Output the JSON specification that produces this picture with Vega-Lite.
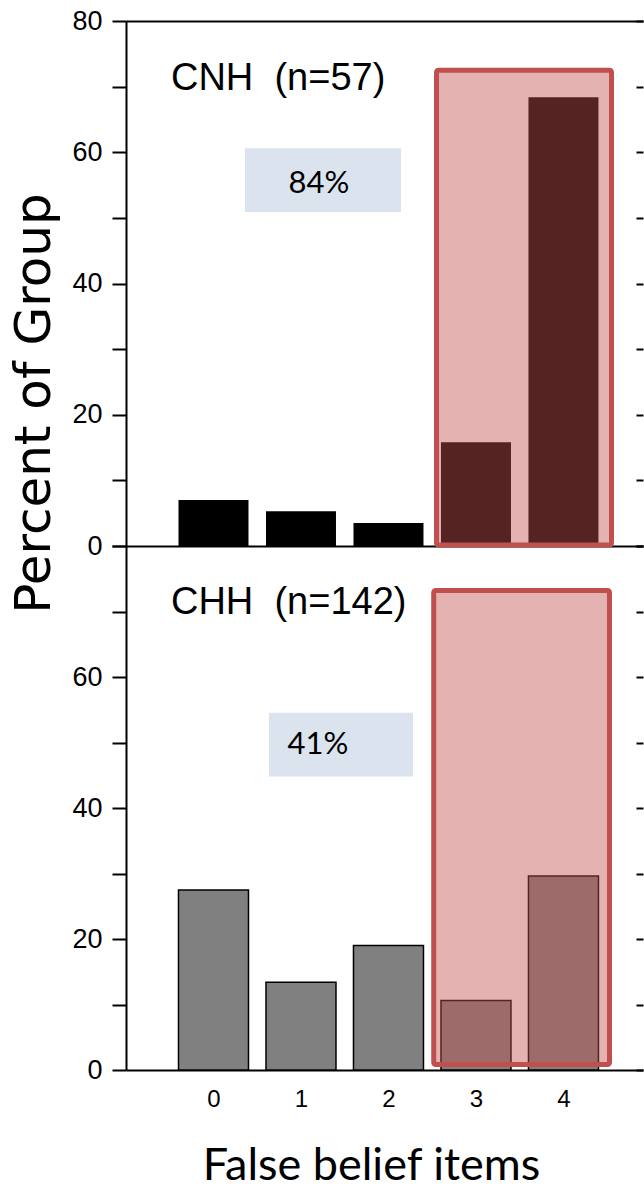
{
  "$schema": "https://vega.github.io/schema/vega-lite/v6.json",
  "autosize": {"type": "pad"},
  "padding": {"left": 9, "top": 7, "right": 0, "bottom": 0},
  "background": "white",
  "config": {
    "view": {"stroke": null},
    "axis": {"domainColor": "black", "tickColor": "black", "labelColor": "black", "titleColor": "black", "grid": false, "domainWidth": 2, "tickWidth": 2, "titleFontWeight": "normal"}
  },
  "datasets": {
    "bars": [
      {"panel": "CNH", "item": 0, "pct": 7.0},
      {"panel": "CNH", "item": 1, "pct": 5.3},
      {"panel": "CNH", "item": 2, "pct": 3.5},
      {"panel": "CNH", "item": 3, "pct": 15.8},
      {"panel": "CNH", "item": 4, "pct": 68.4},
      {"panel": "CHH", "item": 0, "pct": 27.5},
      {"panel": "CHH", "item": 1, "pct": 13.4},
      {"panel": "CHH", "item": 2, "pct": 19.0},
      {"panel": "CHH", "item": 3, "pct": 10.6},
      {"panel": "CHH", "item": 4, "pct": 29.6}
    ],
    "redbox": [
      {"panel": "CNH", "x1": 2.549, "x2": 4.549, "y1": 0.15, "y2": 72.5},
      {"panel": "CHH", "x1": 2.517, "x2": 4.526, "y1": 0.84, "y2": 73.2}
    ],
    "bluebox": [
      {"panel": "CNH", "x1": 0.36, "x2": 2.143, "y1": 50.9, "y2": 60.6},
      {"panel": "CHH", "x1": 0.634, "x2": 2.28, "y1": 44.8, "y2": 54.55}
    ],
    "labels": [
      {"panel": "CNH", "x": -0.486, "y": 69.5, "text": "CNH\u00a0\u00a0(n=57)"},
      {"panel": "CHH", "x": -0.486, "y": 69.6, "text": "CHH\u00a0\u00a0(n=142)"}
    ],
    "pcts": [
      {"panel": "CNH", "x": 1.206, "y": 53.8, "text": "84%"},
      {"panel": "CHH", "x": 1.194, "y": 48.2, "text": "41%"}
    ]
  },
  "spacing": 0,
  "bounds": "flush",
  "vconcat": [
    {
      "width": 517,
      "height": 525,
      "resolve": {"axis": {"x": "independent", "y": "independent"}},
      "layer": [
        {
          "data": {"name": "bluebox"},
          "transform": [{"filter": "datum.panel == 'CNH'"}],
          "mark": {"type": "rect", "fill": "#dae3ee"},
          "encoding": {
            "x": {"field": "x1", "type": "quantitative", "scale": {"domain": [-1, 4.909], "nice": false, "zero": false, "padding": 0}, "axis": null},
            "x2": {"field": "x2"},
            "y": {"field": "y1", "type": "quantitative", "scale": {"domain": [0, 80], "nice": false, "padding": 0}, "axis": null},
            "y2": {"field": "y2"}
          }
        },
        {
          "data": {"name": "bars"},
          "transform": [{"filter": "datum.panel == 'CNH'"}],
          "mark": {"type": "bar", "width": 70, "fill": "black"},
          "encoding": {
            "x": {"field": "item", "type": "quantitative", "scale": {"domain": [-1, 4.909], "nice": false, "zero": false, "padding": 0},
              "axis": {"orient": "bottom", "labels": false, "ticks": false, "domain": true, "title": null}},
            "y": {"field": "pct", "type": "quantitative", "scale": {"domain": [0, 80], "nice": false, "padding": 0},
              "axis": {"orient": "left", "values": [0, 10, 20, 30, 40, 50, 60, 70, 80], "labelExpr": "datum.value % 20 == 0 ? datum.label : ''",
                "tickSize": 14, "labelPadding": 10, "labelFont": "Liberation Sans", "labelFontSize": 27,
                "title": "Percent of Group", "titleFont": "DejaVu Sans", "titleFontSize": 50, "titleAngle": 270,
                "titleX": -77, "titleY": 382, "titleAlign": "center", "titleBaseline": "alphabetic"}}
          }
        },
        {
          "data": {"name": "redbox"},
          "transform": [{"filter": "datum.panel == 'CNH'"}],
          "mark": {"type": "rect", "fill": "#c0504d", "fillOpacity": 0.44, "stroke": "#c0504d", "strokeWidth": 5, "cornerRadius": 2},
          "encoding": {
            "x": {"field": "x1", "type": "quantitative", "scale": {"domain": [-1, 4.909], "nice": false, "zero": false, "padding": 0},
              "axis": {"orient": "top", "labels": false, "ticks": false, "domain": true, "title": null}},
            "x2": {"field": "x2"},
            "y": {"field": "y1", "type": "quantitative", "scale": {"domain": [0, 80], "nice": false, "padding": 0},
              "axis": {"orient": "right", "values": [0, 10, 20, 30, 40, 50, 60, 70, 80], "labels": false, "domain": false, "tickSize": -7, "title": null}},
            "y2": {"field": "y2"}
          }
        },
        {
          "data": {"name": "labels"},
          "transform": [{"filter": "datum.panel == 'CNH'"}],
          "mark": {"type": "text", "align": "left", "baseline": "alphabetic", "font": "Liberation Sans", "fontSize": 38, "color": "black"},
          "encoding": {
            "x": {"field": "x", "type": "quantitative", "scale": {"domain": [-1, 4.909], "nice": false, "zero": false, "padding": 0}, "axis": null},
            "y": {"field": "y", "type": "quantitative", "scale": {"domain": [0, 80], "nice": false, "padding": 0}, "axis": null},
            "text": {"field": "text"}
          }
        },
        {
          "data": {"name": "pcts"},
          "transform": [{"filter": "datum.panel == 'CNH'"}],
          "mark": {"type": "text", "align": "center", "baseline": "alphabetic", "font": "Lato", "fontSize": 31, "color": "black"},
          "encoding": {
            "x": {"field": "x", "type": "quantitative", "scale": {"domain": [-1, 4.909], "nice": false, "zero": false, "padding": 0}, "axis": null},
            "y": {"field": "y", "type": "quantitative", "scale": {"domain": [0, 80], "nice": false, "padding": 0}, "axis": null},
            "text": {"field": "text"}
          }
        }
      ]
    },
    {
      "width": 517,
      "height": 524,
      "resolve": {"axis": {"x": "independent", "y": "independent"}},
      "layer": [
        {
          "data": {"name": "bluebox"},
          "transform": [{"filter": "datum.panel == 'CHH'"}],
          "mark": {"type": "rect", "fill": "#dae3ee"},
          "encoding": {
            "x": {"field": "x1", "type": "quantitative", "scale": {"domain": [-1, 4.909], "nice": false, "zero": false, "padding": 0}, "axis": null},
            "x2": {"field": "x2"},
            "y": {"field": "y1", "type": "quantitative", "scale": {"domain": [0, 80], "nice": false, "padding": 0}, "axis": null},
            "y2": {"field": "y2"}
          }
        },
        {
          "data": {"name": "bars"},
          "transform": [{"filter": "datum.panel == 'CHH'"}],
          "mark": {"type": "bar", "width": 70, "fill": "#808080", "stroke": "black", "strokeWidth": 1.5},
          "encoding": {
            "x": {"field": "item", "type": "quantitative", "scale": {"domain": [-1, 4.909], "nice": false, "zero": false, "padding": 0},
              "axis": {"orient": "bottom", "values": [0, 1, 2, 3, 4], "format": "d", "ticks": false, "tickSize": 0, "labelPadding": 17,
                "labelFont": "Liberation Sans", "labelFontSize": 24, "domain": true,
                "title": "False belief items", "titleFont": "Lato", "titleFontSize": 45, "titleX": 245, "titleY": 109,
                "titleAlign": "center", "titleBaseline": "alphabetic"}},
            "y": {"field": "pct", "type": "quantitative", "scale": {"domain": [0, 80], "nice": false, "padding": 0},
              "axis": {"orient": "left", "values": [0, 10, 20, 30, 40, 50, 60, 70, 80], "labelExpr": "datum.value % 20 == 0 && datum.value < 80 ? datum.label : ''",
                "tickSize": 14, "labelPadding": 10, "labelFont": "Liberation Sans", "labelFontSize": 27, "title": null}}
          }
        },
        {
          "data": {"name": "redbox"},
          "transform": [{"filter": "datum.panel == 'CHH'"}],
          "mark": {"type": "rect", "fill": "#c0504d", "fillOpacity": 0.44, "stroke": "#c0504d", "strokeWidth": 5, "cornerRadius": 2},
          "encoding": {
            "x": {"field": "x1", "type": "quantitative", "scale": {"domain": [-1, 4.909], "nice": false, "zero": false, "padding": 0}, "axis": null},
            "x2": {"field": "x2"},
            "y": {"field": "y1", "type": "quantitative", "scale": {"domain": [0, 80], "nice": false, "padding": 0},
              "axis": {"orient": "right", "values": [0, 10, 20, 30, 40, 50, 60, 70, 80], "labels": false, "domain": false, "tickSize": -7, "title": null}},
            "y2": {"field": "y2"}
          }
        },
        {
          "data": {"name": "labels"},
          "transform": [{"filter": "datum.panel == 'CHH'"}],
          "mark": {"type": "text", "align": "left", "baseline": "alphabetic", "font": "Liberation Sans", "fontSize": 38, "color": "black"},
          "encoding": {
            "x": {"field": "x", "type": "quantitative", "scale": {"domain": [-1, 4.909], "nice": false, "zero": false, "padding": 0}, "axis": null},
            "y": {"field": "y", "type": "quantitative", "scale": {"domain": [0, 80], "nice": false, "padding": 0}, "axis": null},
            "text": {"field": "text"}
          }
        },
        {
          "data": {"name": "pcts"},
          "transform": [{"filter": "datum.panel == 'CHH'"}],
          "mark": {"type": "text", "align": "center", "baseline": "alphabetic", "font": "Lato", "fontSize": 31, "color": "black"},
          "encoding": {
            "x": {"field": "x", "type": "quantitative", "scale": {"domain": [-1, 4.909], "nice": false, "zero": false, "padding": 0}, "axis": null},
            "y": {"field": "y", "type": "quantitative", "scale": {"domain": [0, 80], "nice": false, "padding": 0}, "axis": null},
            "text": {"field": "text"}
          }
        }
      ]
    }
  ]
}
